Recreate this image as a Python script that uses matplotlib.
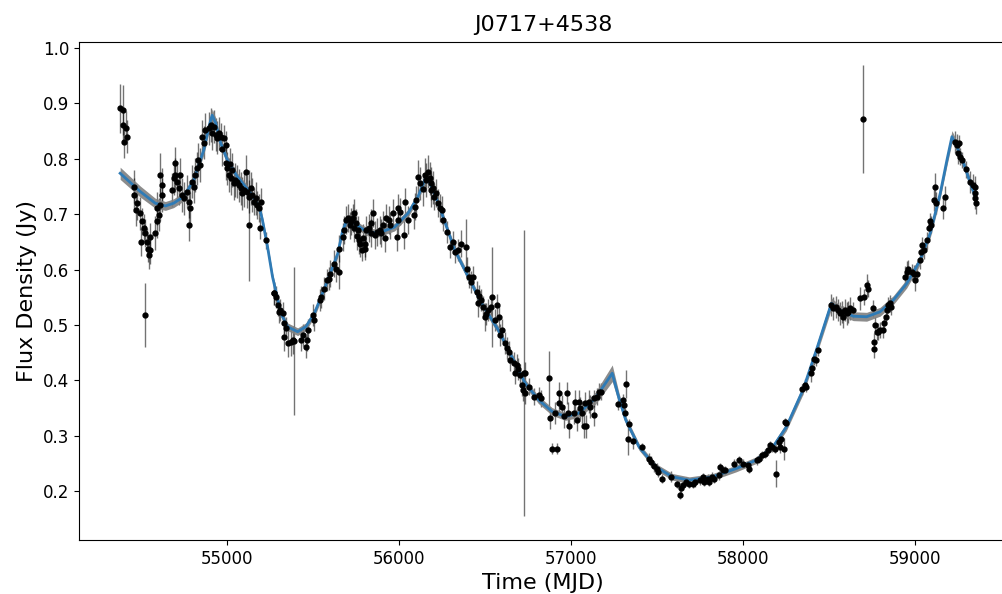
import numpy as np
import matplotlib
matplotlib.use("Agg")
import matplotlib.pyplot as plt

# 数据 (MJD, 通量, 误差) - 按时间分段
mjd_a = [54381, 54400, 54395, 54416, 54420, 54405, 54463, 54459, 54479, 54475, 54498, 54508, 54517, 54504,
         54527, 54537, 54552, 54541, 54556, 54546, 54527, 54581, 54595, 54595, 54605, 54615, 54625, 54615,
         54625, 54683, 54702, 54712, 54722, 54731, 54741, 54702, 54784, 54790, 54784, 54800, 54809, 54819,
         54829, 54832, 54844, 54858, 54877, 54897, 54907, 54917, 54936, 54955, 54965, 54984, 54994, 54994,
         55004, 55013, 55023, 55033, 55043, 55062, 55082, 55092, 55111, 55121, 55130, 55140, 55150, 55159,
         55179, 55189, 55198, 55194, 55228, 55273, 55286, 55305, 55128,
         54692, 54750, 54770, 54870, 54925, 54945, 54975, 55018, 55050, 55072, 55100, 55168]
flux_a = [0.891, 0.889, 0.861, 0.856, 0.840, 0.831, 0.750, 0.735, 0.720, 0.708, 0.702, 0.687, 0.675, 0.650,
          0.666, 0.650, 0.659, 0.638, 0.635, 0.626, 0.518, 0.666, 0.687, 0.711, 0.699, 0.717, 0.735, 0.771,
          0.753, 0.744, 0.792, 0.759, 0.747, 0.771, 0.735, 0.771, 0.723, 0.711, 0.681, 0.759, 0.750, 0.771,
          0.783, 0.798, 0.789, 0.840, 0.852, 0.855, 0.861, 0.846, 0.844, 0.846, 0.840, 0.837, 0.825, 0.792,
          0.783, 0.771, 0.765, 0.780, 0.756, 0.759, 0.747, 0.738, 0.777, 0.741, 0.732, 0.747, 0.735, 0.723,
          0.717, 0.711, 0.723, 0.675, 0.653, 0.557, 0.551, 0.524, 0.680,
          0.765, 0.729, 0.741, 0.829, 0.858, 0.838, 0.818, 0.790, 0.762, 0.752, 0.744, 0.729]
err_a = [0.045, 0.045, 0.03, 0.03, 0.03, 0.03, 0.03, 0.03, 0.03, 0.03, 0.03, 0.025, 0.025, 0.025,
         0.025, 0.025, 0.025, 0.025, 0.025, 0.025, 0.058, 0.03, 0.03, 0.03, 0.03, 0.03, 0.03, 0.04,
         0.03, 0.03, 0.03, 0.03, 0.03, 0.03, 0.03, 0.03, 0.03, 0.03, 0.03, 0.03, 0.03, 0.03,
         0.03, 0.03, 0.03, 0.03, 0.03, 0.03, 0.03, 0.03, 0.03, 0.03, 0.025, 0.025, 0.025, 0.03,
         0.03, 0.03, 0.03, 0.03, 0.03, 0.03, 0.03, 0.03, 0.03, 0.03, 0.03, 0.03, 0.03, 0.025,
         0.025, 0.025, 0.025, 0.02, 0.015, 0.02, 0.02, 0.02, 0.10,
         0.03, 0.03, 0.03, 0.03, 0.03, 0.03, 0.03, 0.03, 0.03, 0.03, 0.03, 0.03]

mjd_b = [55276, 55296, 55311, 55325, 55331, 55344, 55335, 55354, 55374, 55389, 55384, 55432, 55442, 55461,
         55467, 55471, 55500, 55506, 55545, 55549, 55568, 55584, 55603, 55597, 55623, 55636, 55656, 55656,
         55675, 55681, 55695, 55708, 55724, 55740, 55743, 55753, 55763, 55772, 55778, 55792, 55802, 55786,
         55806, 55811, 55841, 55851, 55841, 55876, 55889, 55899, 55909, 55918, 55928, 55942, 55967, 55997,
         55992, 55997, 56035, 56032, 56055, 56090, 56093, 56103, 56113, 56123, 56152, 56162, 56172, 56187,
         56191, 56207, 56220, 56230, 56240, 56253,
         55715, 55732, 55760, 55830, 55860, 55950, 56010, 56140, 56180, 56200]
flux_b = [0.557, 0.536, 0.527, 0.521, 0.503, 0.494, 0.479, 0.467, 0.470, 0.471, 0.473, 0.473, 0.482, 0.461,
          0.473, 0.491, 0.518, 0.509, 0.545, 0.551, 0.566, 0.581, 0.593, 0.584, 0.611, 0.602, 0.596, 0.638,
          0.659, 0.671, 0.690, 0.693, 0.687, 0.675, 0.702, 0.684, 0.671, 0.653, 0.647, 0.657, 0.647, 0.635,
          0.638, 0.671, 0.684, 0.702, 0.666, 0.668, 0.671, 0.666, 0.681, 0.657, 0.693, 0.690, 0.702, 0.711,
          0.659, 0.690, 0.723, 0.662, 0.690, 0.699, 0.714, 0.726, 0.768, 0.756, 0.771, 0.762, 0.777, 0.756,
          0.744, 0.732, 0.738, 0.720, 0.711, 0.708,
          0.680, 0.693, 0.660, 0.675, 0.662, 0.680, 0.705, 0.745, 0.765, 0.748]
err_b = [0.02, 0.02, 0.02, 0.02, 0.02, 0.02, 0.025, 0.025, 0.025, 0.134, 0.025, 0.02, 0.02, 0.02,
         0.02, 0.02, 0.02, 0.02, 0.02, 0.02, 0.02, 0.02, 0.025, 0.02, 0.025, 0.025, 0.03, 0.025,
         0.025, 0.025, 0.025, 0.025, 0.025, 0.025, 0.025, 0.025, 0.025, 0.025, 0.025, 0.025, 0.025, 0.02,
         0.02, 0.025, 0.025, 0.025, 0.025, 0.025, 0.025, 0.025, 0.025, 0.025, 0.025, 0.025, 0.025, 0.025,
         0.025, 0.025, 0.025, 0.025, 0.025, 0.025, 0.025, 0.025, 0.03, 0.03, 0.03, 0.03, 0.03, 0.03,
         0.03, 0.025, 0.025, 0.025, 0.025, 0.025,
         0.025, 0.025, 0.025, 0.025, 0.025, 0.025, 0.025, 0.03, 0.03, 0.03]

mjd_c = [56259, 56279, 56298, 56318, 56327, 56343, 56362, 56389, 56395, 56409, 56434, 56454, 56460, 56479,
         56493, 56502, 56522, 56537, 56545, 56561, 56570, 56584, 56600, 56619, 56629, 56648, 56668, 56674,
         56687, 56706, 56716, 56726, 56732, 56736, 56728, 56759, 56785, 56814, 56829, 56876, 56882, 56892,
         56921, 56911, 56931, 56934, 56950, 56960, 56979, 56985, 56993, 57018, 57028, 57037, 57047, 57057,
         57067, 57077, 57090, 57086, 57106, 57115, 57137, 57135, 57154, 57164, 57174,
         56420, 56470, 56510, 56590, 56640, 56695]
flux_c = [0.690, 0.668, 0.641, 0.650, 0.632, 0.635, 0.647, 0.641, 0.602, 0.587, 0.587, 0.560, 0.539, 0.545,
          0.533, 0.515, 0.527, 0.533, 0.551, 0.509, 0.536, 0.515, 0.491, 0.467, 0.458, 0.437, 0.431, 0.413,
          0.428, 0.410, 0.392, 0.383, 0.413, 0.377, 0.413, 0.389, 0.371, 0.374, 0.368, 0.404, 0.332, 0.277,
          0.277, 0.341, 0.377, 0.359, 0.353, 0.335, 0.377, 0.341, 0.317, 0.341, 0.362, 0.329, 0.362, 0.350,
          0.341, 0.317, 0.317, 0.359, 0.362, 0.353, 0.338, 0.368, 0.371, 0.380, 0.380,
          0.578, 0.552, 0.520, 0.482, 0.452, 0.420]
err_c = [0.02, 0.02, 0.02, 0.02, 0.02, 0.02, 0.025, 0.05, 0.02, 0.02, 0.02, 0.02, 0.025, 0.02,
         0.02, 0.025, 0.02, 0.02, 0.09, 0.02, 0.02, 0.02, 0.02, 0.02, 0.02, 0.02, 0.02, 0.02,
         0.02, 0.02, 0.02, 0.02, 0.02, 0.02, 0.258, 0.015, 0.015, 0.015, 0.015, 0.05, 0.02, 0.01,
         0.01, 0.02, 0.02, 0.02, 0.02, 0.02, 0.02, 0.02, 0.02, 0.02, 0.02, 0.02, 0.02, 0.02,
         0.02, 0.02, 0.02, 0.02, 0.02, 0.02, 0.02, 0.015, 0.015, 0.015, 0.015,
         0.02, 0.02, 0.02, 0.02, 0.02, 0.02]

mjd_d = [57277, 57304, 57320, 57310, 57316, 57339, 57335, 57363, 57417, 57456, 57465, 57485, 57505, 57510,
         57530, 57582, 57621, 57641, 57637, 57651, 57670, 57690, 57709, 57725, 57752, 57767, 57777, 57796,
         57806, 57822, 57836, 57861, 57868, 57884, 57900, 57952, 57981, 58001, 58030, 58040, 58082, 58098,
         58113, 58133, 58147, 58157, 58172, 58186, 58195, 58209, 58218, 58238, 58224, 58244, 58254]
flux_d = [0.357, 0.365, 0.394, 0.356, 0.341, 0.321, 0.295, 0.291, 0.279, 0.259, 0.253, 0.245, 0.241, 0.235,
          0.223, 0.226, 0.213, 0.205, 0.194, 0.211, 0.217, 0.214, 0.213, 0.216, 0.220, 0.225, 0.217, 0.223,
          0.217, 0.226, 0.223, 0.229, 0.243, 0.238, 0.238, 0.250, 0.256, 0.250, 0.247, 0.241, 0.256, 0.259,
          0.265, 0.268, 0.274, 0.283, 0.279, 0.277, 0.232, 0.289, 0.279, 0.277, 0.295, 0.325, 0.323]
err_d = [0.01, 0.01, 0.025, 0.01, 0.01, 0.01, 0.03, 0.015, 0.008, 0.01, 0.01, 0.01, 0.01, 0.01,
         0.008, 0.01, 0.008, 0.008, 0.008, 0.008, 0.008, 0.008, 0.008, 0.008, 0.008, 0.008, 0.008, 0.008,
         0.008, 0.008, 0.008, 0.008, 0.008, 0.008, 0.008, 0.008, 0.008, 0.008, 0.008, 0.008, 0.008, 0.008,
         0.008, 0.008, 0.008, 0.008, 0.008, 0.008, 0.024, 0.008, 0.01, 0.02, 0.008, 0.008, 0.008]

mjd_e = [58347, 58361, 58370, 58399, 58405, 58413, 58429, 58439, 58516, 58526, 58542, 58555, 58565, 58575,
         58584, 58594, 58604, 58614, 58624, 58643, 58682, 58705, 58721, 58730, 58701, 58760, 58770, 58779,
         58764, 58766, 58789, 58799, 58814, 58822, 58834, 58841, 58847, 58857, 58861, 58945, 58954, 58964,
         58983, 58997, 59003, 59012, 59032, 59038, 59042, 59052, 59071, 59081, 59091, 59094, 59110, 59120,
         59126, 59164, 59178, 59237, 59246, 59256, 59250, 59266, 59275, 59299, 59324, 59339, 59353, 59349,
         59353, 59359]
flux_e = [0.384, 0.392, 0.389, 0.413, 0.422, 0.438, 0.437, 0.455, 0.536, 0.530, 0.533, 0.527, 0.521, 0.524,
          0.515, 0.527, 0.521, 0.524, 0.530, 0.527, 0.548, 0.551, 0.572, 0.566, 0.872, 0.530, 0.500, 0.488,
          0.470, 0.456, 0.488, 0.491, 0.491, 0.503, 0.515, 0.527, 0.536, 0.539, 0.533, 0.587, 0.596, 0.602,
          0.596, 0.593, 0.582, 0.593, 0.617, 0.632, 0.644, 0.635, 0.653, 0.675, 0.687, 0.681, 0.726, 0.750,
          0.721, 0.711, 0.731, 0.831, 0.825, 0.828, 0.810, 0.804, 0.798, 0.781, 0.759, 0.753, 0.750, 0.738,
          0.729, 0.721]
err_e = [0.01, 0.01, 0.01, 0.015, 0.01, 0.01, 0.01, 0.01, 0.02, 0.02, 0.02, 0.02, 0.02, 0.02,
         0.02, 0.02, 0.02, 0.02, 0.02, 0.015, 0.02, 0.015, 0.02, 0.015, 0.097, 0.015, 0.015, 0.015,
         0.015, 0.015, 0.015, 0.015, 0.015, 0.015, 0.015, 0.015, 0.015, 0.015, 0.015, 0.02, 0.02, 0.015,
         0.015, 0.015, 0.02, 0.015, 0.015, 0.015, 0.015, 0.015, 0.015, 0.015, 0.015, 0.015, 0.02, 0.025,
         0.02, 0.02, 0.02, 0.02, 0.02, 0.015, 0.02, 0.015, 0.015, 0.015, 0.02, 0.02, 0.02, 0.02,
         0.02, 0.02]

# 模型曲线 (蓝线) 及其不确定度带 (灰色)
model_mjd = [54381, 54498, 54585, 54644, 54692, 54751, 54809, 54867, 54897, 54916, 54936, 54965, 55004,
             55062, 55140, 55189, 55208, 55238, 55267, 55315, 55354, 55413, 55461, 55510, 55588, 55646,
             55675, 55705, 55743, 55782, 55821, 55880, 55977, 56055, 56113, 56152, 56162, 56191, 56230,
             56279, 56327, 56405, 56483, 56580, 56658, 56736, 56814, 56892, 56969, 57047, 57144, 57242,
             57281, 57320, 57398, 57495, 57592, 57690, 57826, 57962, 58078, 58176, 58254, 58351, 58429,
             58516, 58565, 58643, 58721, 58799, 58876, 58954, 59032, 59091, 59149, 59188, 59217, 59246,
             59285, 59324, 59353]
model_flux = [0.774, 0.741, 0.720, 0.715, 0.720, 0.732, 0.762, 0.816, 0.858, 0.879, 0.865, 0.829, 0.798,
              0.768, 0.738, 0.714, 0.690, 0.641, 0.587, 0.522, 0.497, 0.488, 0.497, 0.521, 0.581, 0.629,
              0.671, 0.693, 0.684, 0.675, 0.668, 0.666, 0.677, 0.702, 0.732, 0.762, 0.768, 0.750, 0.720,
              0.677, 0.635, 0.587, 0.539, 0.491, 0.443, 0.395, 0.365, 0.344, 0.335, 0.341, 0.368, 0.413,
              0.368, 0.329, 0.280, 0.244, 0.226, 0.220, 0.226, 0.241, 0.256, 0.280, 0.316, 0.383, 0.455,
              0.539, 0.527, 0.516, 0.515, 0.524, 0.545, 0.575, 0.617, 0.666, 0.738, 0.798, 0.840, 0.822,
              0.792, 0.756, 0.732]
model_band = [0.011, 0.010, 0.009, 0.008, 0.008, 0.008, 0.008, 0.009, 0.010, 0.011, 0.010, 0.009, 0.008,
              0.007, 0.007, 0.007, 0.007, 0.007, 0.007, 0.007, 0.007, 0.007, 0.007, 0.007, 0.007, 0.007,
              0.007, 0.008, 0.007, 0.007, 0.007, 0.007, 0.007, 0.007, 0.007, 0.008, 0.008, 0.007, 0.007,
              0.007, 0.007, 0.007, 0.007, 0.007, 0.007, 0.007, 0.007, 0.007, 0.007, 0.008, 0.011, 0.015,
              0.010, 0.007, 0.006, 0.006, 0.006, 0.006, 0.006, 0.006, 0.006, 0.006, 0.007, 0.008, 0.009,
              0.010, 0.009, 0.008, 0.008, 0.008, 0.008, 0.008, 0.008, 0.008, 0.009, 0.010, 0.011, 0.010,
              0.009, 0.009, 0.009]

mjd = np.array(mjd_a + mjd_b + mjd_c + mjd_d + mjd_e)
flux = np.array(flux_a + flux_b + flux_c + flux_d + flux_e)
flux_err = np.array(err_a + err_b + err_c + err_d + err_e)
model_mjd = np.array(model_mjd)
model_flux = np.array(model_flux)
model_band = np.array(model_band)

fig = plt.figure(figsize=(10.03, 5.94), dpi=100)
ax = fig.add_axes([0.0788, 0.0909, 0.925, 0.8384])

ax.errorbar(mjd, flux, yerr=flux_err, fmt='none', ecolor='black', elinewidth=1, alpha=0.55, zorder=1)
ax.fill_between(model_mjd, model_flux - model_band, model_flux + model_band,
                color='grey', alpha=0.9, lw=0, zorder=2)
ax.plot(model_mjd, model_flux, color='#2f7bb6', lw=2, zorder=3)
ax.plot(mjd, flux, 'o', color='black', ms=3.5, zorder=4)

ax.set_xlim(54142, 59536)
ax.set_ylim(0.112, 1.011)
ax.set_xticks([55000, 56000, 57000, 58000, 59000])
ax.set_yticks([0.2, 0.3, 0.4, 0.5, 0.6, 0.7, 0.8, 0.9, 1.0])
ax.tick_params(labelsize=12)
ax.spines['right'].set_visible(False)

ax.set_title('J0717+4538', fontsize=16, pad=8)
ax.set_xlabel('Time (MJD)', fontsize=16)
ax.set_ylabel('Flux Density (Jy)', fontsize=16)

fig.savefig('out.png', dpi=100)
